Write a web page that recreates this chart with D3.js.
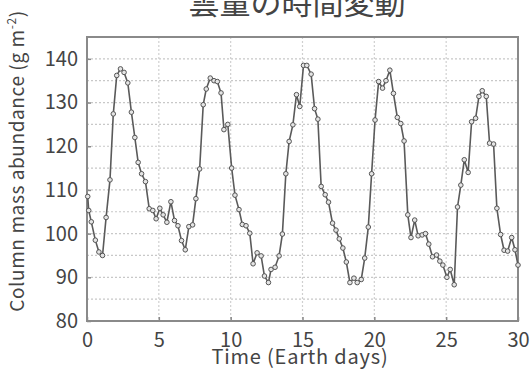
<!DOCTYPE html>
<html>
<head>
<meta charset="utf-8">
<script src="https://cdn.jsdelivr.net/npm/d3@7"></script>
<style>
  body { margin: 0; background: #fff; }
  text { font-family: "Noto Sans CJK JP", "Noto Sans", sans-serif; fill: #444; }
</style>
</head>
<body>
<script>
// cloud amount over time
var days = [0.05, 0.12, 0.3, 0.58, 0.83, 1.08, 1.33, 1.6, 1.83, 2.07, 2.33, 2.58, 2.84, 3.09, 3.33, 3.56, 3.8,
  4.07, 4.33, 4.58, 4.81, 5.07, 5.3, 5.56, 5.84, 6.09, 6.33, 6.58, 6.84, 7.09, 7.35, 7.58, 7.84,
  8.09, 8.3, 8.58, 8.84, 9.07, 9.33, 9.53, 9.8, 10.07, 10.3, 10.58, 10.81, 11.07, 11.33, 11.56, 11.84,
  12.12, 12.35, 12.63, 12.81, 13.09, 13.37, 13.6, 13.84, 14.07, 14.33, 14.58, 14.81, 15.07, 15.3, 15.6,
  15.84, 16.07, 16.3, 16.58, 16.81, 17.09, 17.33, 17.56, 17.81, 18.05, 18.3, 18.58, 18.81, 19.09, 19.33,
  19.58, 19.81, 20.05, 20.3, 20.57, 20.81, 21.08, 21.33, 21.6, 21.84, 22.07, 22.33, 22.55, 22.81, 23.05,
  23.33, 23.56, 23.79, 24.05, 24.33, 24.56, 24.77, 25.05, 25.28, 25.56, 25.79, 26.02, 26.26, 26.53, 26.77,
  27.05, 27.28, 27.51, 27.79, 28.02, 28.3, 28.53, 28.79, 29.03, 29.28, 29.56, 29.79, 30.0];

var abundance = [108.5, 105.3, 102.7, 98.5, 95.8, 95.0, 103.7, 112.3, 127.4, 136.2, 137.7, 136.9, 134.5, 127.8, 122.0, 116.3, 113.7,
  111.9, 105.7, 105.3, 103.4, 105.8, 104.3, 102.6, 107.3, 103.0, 101.8, 98.4, 96.3, 101.6, 102.0, 108.0, 114.8,
  129.5, 133.1, 135.6, 135.0, 134.8, 132.2, 123.8, 125.0, 115.0, 108.8, 105.5, 102.1, 101.8, 100.1, 93.1, 95.6,
  94.9, 90.3, 88.8, 91.8, 92.3, 94.9, 99.9, 113.7, 121.1, 124.9, 131.8, 129.1, 138.5, 138.5, 136.5,
  128.6, 126.2, 110.8, 108.9, 107.2, 102.4, 100.8, 98.8, 96.7, 93.5, 88.8, 89.8, 88.8, 89.5, 94.4,
  101.5, 113.7, 126.0, 134.8, 133.3, 135.0, 137.4, 132.1, 126.6, 125.2, 121.2, 104.3, 99.1, 103.1, 99.5,
  99.7, 100.0, 97.6, 94.7, 95.1, 93.7, 92.8, 90.0, 91.8, 88.3, 106.1, 111.1, 116.9, 114.0, 125.6,
  126.4, 131.4, 132.7, 131.4, 120.7, 120.5, 105.8, 99.8, 96.2, 96.0, 99.1, 96.3, 92.8];

var xTicks = [0, 5, 10, 15, 20, 25, 30];
var yTicks = [80, 90, 100, 110, 120, 130, 140];
var yGrid = [85, 90, 95, 100, 105, 110, 115, 120, 125, 130, 135, 140];

var title = "雲量の時間変動";
var xTitle = "Time (Earth days)";

var data = days.map(function (d, i) {
  return {x: d, y: abundance[i]};
});

var margin = {top: 37, right: 13, bottom: 57, left: 87},
    w = 531 - margin.left - margin.right,
    h = 378 - margin.top - margin.bottom;

var svgRoot = d3.select('body').append('svg')
    .attr('width', 531)
    .attr('height', 378);

var svg = svgRoot.append('g')
    .attr('transform', 'translate(' + margin.left + ',' + margin.top + ')');

var xScale = d3.scaleLinear().domain([0, 30]).range([0, w]);
var yScale = d3.scaleLinear().domain([80, 145]).range([h, 0]);

// grid
svg.selectAll('.hgrid')
  .data(yGrid)
  .enter()
  .append('line')
  .attr('x1', 0).attr('x2', w)
  .attr('y1', function (d) { return yScale(d); })
  .attr('y2', function (d) { return yScale(d); })
  .attr('stroke', '#c8c8c8')
  .attr('stroke-width', 1.2)
  .attr('stroke-dasharray', '2,2');

svg.selectAll('.vgrid')
  .data(xTicks.slice(1, -1))
  .enter()
  .append('line')
  .attr('y1', 0).attr('y2', h)
  .attr('x1', function (d) { return xScale(d); })
  .attr('x2', function (d) { return xScale(d); })
  .attr('stroke', '#d0d0d0')
  .attr('stroke-width', 1.2)
  .attr('stroke-dasharray', '2,2');

// axes
var xAxis = d3.axisBottom(xScale).tickValues(xTicks).tickSize(-4);
var yAxis = d3.axisLeft(yScale).tickValues(yTicks).tickSize(-4).tickPadding(8);

var gx = svg.append('g')
  .attr('transform', 'translate(0,' + h + ')')
  .call(xAxis);
var gy = svg.append('g').call(yAxis);

[gx, gy].forEach(function (g) {
  g.select('.domain').remove();
  g.selectAll('line').attr('stroke', '#888').attr('stroke-width', 1.5);
  g.selectAll('text')
    .attr('font-size', '20px')
    .attr('fill', '#444')
    .style('font-family', '"Noto Sans CJK JP", sans-serif');
});
gx.selectAll('text').attr('y', 26).attr('dy', 0);
gy.selectAll('text').attr('dx', '-1px');

// frame
svg.append('rect')
  .attr('x', 0).attr('y', 0)
  .attr('width', w).attr('height', h)
  .attr('fill', 'none')
  .attr('stroke', '#8a8a8a')
  .attr('stroke-width', 2);

// line and points
var line = d3.line()
  .x(function (d) { return xScale(d.x); })
  .y(function (d) { return yScale(d.y); });

svg.append('path')
  .datum(data)
  .attr('d', line)
  .attr('fill', 'none')
  .attr('stroke', '#5a5a5a')
  .attr('stroke-width', 1.6);

svg.selectAll('circle')
  .data(data)
  .enter()
  .append('circle')
  .attr('cx', function (d) { return xScale(d.x); })
  .attr('cy', function (d) { return yScale(d.y); })
  .attr('r', 2.3)
  .attr('fill', '#e4e4e4')
  .attr('stroke', '#555')
  .attr('stroke-width', 1);

// titles
svgRoot.append('text')
  .attr('x', 297)
  .attr('y', 14)
  .attr('text-anchor', 'middle')
  .attr('font-size', '31px')
  .attr('fill', '#222')
  .text(title);

svgRoot.append('text')
  .attr('x', 300)
  .attr('y', 364)
  .attr('text-anchor', 'middle')
  .attr('font-size', '20px')
  .attr('letter-spacing', '0.8px')
  .text(xTitle);

var yLab = svgRoot.append('text')
  .attr('transform', 'translate(24,' + 161 + ') rotate(-90)')
  .attr('text-anchor', 'middle')
  .attr('font-size', '19px')
  .attr('letter-spacing', '0.6px');
yLab.append('tspan').text('Column mass abundance (g m');
yLab.append('tspan').attr('baseline-shift', 'super').attr('font-size', '12px').text('-2');
yLab.append('tspan').text(')');
</script>
</body>
</html>
